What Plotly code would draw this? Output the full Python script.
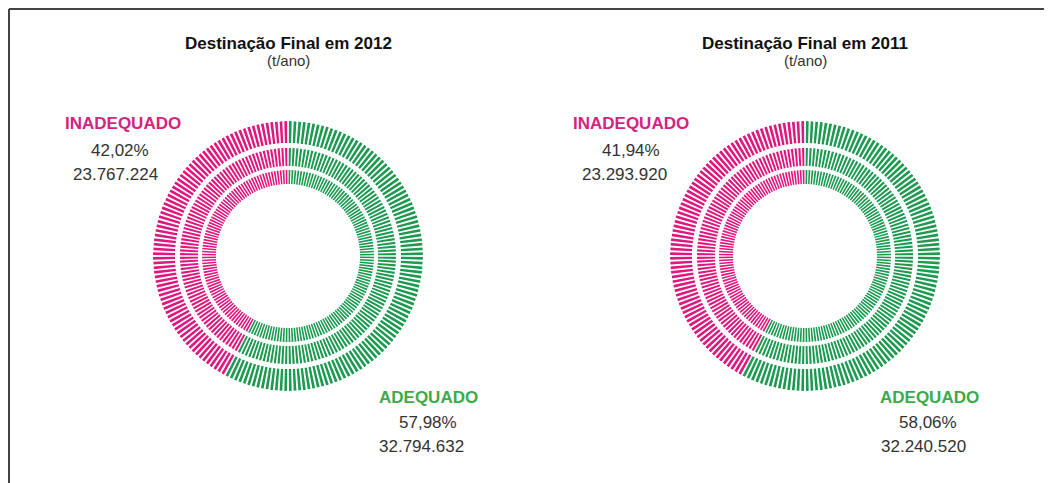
import plotly.graph_objects as go

W, H = 1052, 483
OFF = 8  # margem padrão do body da página
FW, FH = W - OFF, H - OFF

# Dados (t/ano)
anos = ["2012", "2011"]
inadequado_t = [23767224, 23293920]
adequado_t = [32794632, 32240520]
inadequado_pct = ["42,02%", "41,94%"]
adequado_pct = ["57,98%", "58,06%"]
inadequado_txt = ["23.767.224", "23.293.920"]
adequado_txt = ["32.794.632", "32.240.520"]

ROSA = "#E0177E"
VERDE = "#1B9A50"
ROSA_TXT = "#D4247F"
VERDE_TXT = "#3DAA4B"
TEXTO = "#333333"
FONT = "Liberation Sans, Arial, sans-serif"

N_TICKS = 180          # marcas por anel
PASSO = 360 / N_TICKS
LARGURA = PASSO * 0.58
# (base, espessura) de cada anel, em pixels
ANEIS = [(113, 22), (90, 18), (72, 14)]
R_MAX = 135

# centros dos gráficos em pixels (na imagem)
CENTROS = [(288, 256), (805, 256)]
# posição x (centro) dos rótulos: [nome, %, valor]
X_INADEQ = [(123, 120, 115), (631, 631, 624)]
X_ADEQ = [(428, 428, 421), (929, 928, 923)]


def px(x, y):
    return (x - OFF) / FW, 1 - (y - OFF) / FH


fig = go.Figure()

for i, ano in enumerate(anos):
    total = inadequado_t[i] + adequado_t[i]
    n_verde = round(adequado_t[i] / total * N_TICKS)
    theta_verde = [PASSO * (k + 0.5) for k in range(n_verde)]
    theta_rosa = [PASSO * (k + 0.5) for k in range(n_verde, N_TICKS)]
    polar = "polar" if i == 0 else f"polar{i + 1}"
    for base, esp in ANEIS:
        for thetas, cor in [(theta_verde, VERDE), (theta_rosa, ROSA)]:
            fig.add_trace(go.Barpolar(
                theta=thetas,
                r=[esp] * len(thetas),
                base=[base] * len(thetas),
                width=[LARGURA] * len(thetas),
                marker=dict(color=cor, line=dict(width=0)),
                subplot=polar,
                showlegend=False,
                hoverinfo="skip",
            ))

    cx, cy = CENTROS[i]
    x0, y1 = px(cx - R_MAX, cy - R_MAX)
    x1, y0 = px(cx + R_MAX, cy + R_MAX)
    fig.layout[polar] = dict(
        domain=dict(x=[x0, x1], y=[y0, y1]),
        bgcolor="rgba(0,0,0,0)",
        radialaxis=dict(range=[0, R_MAX], visible=False),
        angularaxis=dict(visible=False, direction="clockwise", rotation=90),
        bargap=0,
    )

    # títulos
    tx, ty = px(cx, 44)
    fig.add_annotation(text=f"<b>Destinação Final em {ano}</b>", x=tx, y=ty,
                       font=dict(size=17, color="#111111", family=FONT))
    tx, ty = px(cx, 61)
    fig.add_annotation(text="(t/ano)", x=tx, y=ty,
                       font=dict(size=15, color=TEXTO, family=FONT))

    # rótulos inadequado
    for txt, xx, yy, cor, neg in zip(
            ["INADEQUADO", inadequado_pct[i], inadequado_txt[i]],
            X_INADEQ[i], [124, 150, 174],
            [ROSA_TXT, TEXTO, TEXTO], [True, False, False]):
        ax, ay = px(xx, yy)
        fig.add_annotation(text=f"<b>{txt}</b>" if neg else txt, x=ax, y=ay,
                           font=dict(size=17, color=cor, family=FONT))

    # rótulos adequado
    for txt, xx, yy, cor, neg in zip(
            ["ADEQUADO", adequado_pct[i], adequado_txt[i]],
            X_ADEQ[i], [397, 422, 446],
            [VERDE_TXT, TEXTO, TEXTO], [True, False, False]):
        ax, ay = px(xx, yy)
        fig.add_annotation(text=f"<b>{txt}</b>" if neg else txt, x=ax, y=ay,
                           font=dict(size=17, color=cor, family=FONT))

fig.update_annotations(xref="paper", yref="paper", showarrow=False,
                       xanchor="center", yanchor="middle")

# moldura (canto superior esquerdo da figura)
bx = 1 / FW
by = 1 - 1 / FH
fig.add_shape(type="line", xref="paper", yref="paper", x0=bx, x1=1, y0=by, y1=by,
              line=dict(color="#444444", width=2))
fig.add_shape(type="line", xref="paper", yref="paper", x0=bx, x1=bx, y0=0, y1=by,
              line=dict(color="#444444", width=2))

fig.update_layout(
    width=FW, height=FH,
    margin=dict(l=0, r=0, t=0, b=0),
    paper_bgcolor="white",
    plot_bgcolor="white",
)

fig.write_html("out.html")
